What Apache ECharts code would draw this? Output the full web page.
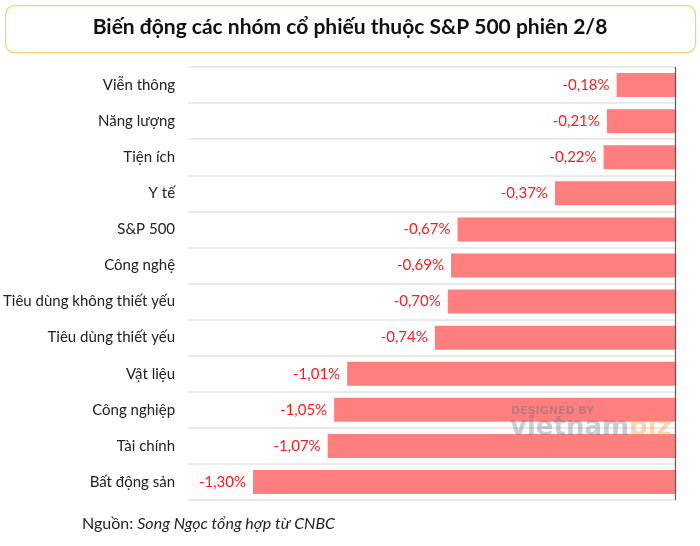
<!DOCTYPE html>
<html>
<head>
<meta charset="utf-8">
<script src="https://cdn.jsdelivr.net/npm/echarts@6/dist/echarts.min.js"></script>
<style>html,body{margin:0;padding:0;background:#fff}#c{width:700px;height:546px}</style>
</head>
<body>
<div id="c"></div>
<script>
const categories = ["Viễn thông","Năng lượng","Tiện ích","Y tế","S&P 500","Công nghệ","Tiêu dùng không thiết yếu","Tiêu dùng thiết yếu","Vật liệu","Công nghiệp","Tài chính","Bất động sản"];
const values = [-0.18,-0.21,-0.22,-0.37,-0.67,-0.69,-0.70,-0.74,-1.01,-1.05,-1.07,-1.30];
const titleText = "Biến động các nhóm cổ phiếu thuộc S&P 500 phiên 2/8";

const chart = echarts.init(document.getElementById('c'));
chart.setOption({
  backgroundColor: '#fff',
  animation: false,
  grid: {left: 187, right: 25, top: 67, bottom: 46},
  xAxis: {type: 'value', min: -1.5, max: 0, show: false},
  yAxis: {
    type: 'category', data: categories, inverse: true,
    axisLine: {show: false}, axisTick: {show: false},
    axisLabel: {color: '#222', fontSize: 15, fontFamily: 'Lato', margin: 13},
    splitLine: {show: true, lineStyle: {color: '#e4e4e4', width: 1.5}}
  },
  series: [{
    type: 'bar', data: values, barWidth: 24,
    itemStyle: {color: '#ff7f7f'},
    label: {show: true, position: 'left', distance: 7, color: '#ff1a1a', fontSize: 15, fontFamily: 'Lato',
      formatter: p => p.value.toFixed(2).replace('.', ',') + '%'},
    markLine: {silent: true, symbol: 'none', label: {show: false},
      lineStyle: {color: '#5a5a66', type: 'solid', width: 1.2},
      data: [{xAxis: 0}]}
  }],
  graphic: [
    {type: 'rect', left: 5, top: 5, shape: {width: 690, height: 47, r: 9},
      style: {fill: '#fff', stroke: '#f6d36a', lineWidth: 1.2}, z: -1},
    {type: 'text', left: 'center', top: 17, style: {text: titleText, fontSize: 21, fontWeight: 'bold', fontFamily: 'Lato', fill: '#111'}},
    {type: 'text', left: 82, top: 516, style: {
      text: '{a|Nguồn: }{b|Song Ngọc tổng hợp từ CNBC}',
      rich: {a: {fontSize: 16, fontFamily: 'Lato', fill: '#222'}, b: {fontSize: 16, fontFamily: 'Lato', fontStyle: 'italic', fill: '#222'}}}},
    {type: 'text', left: 511, top: 406, z: 100, style: {text: 'DESIGNED BY', fontSize: 11, fontWeight: 'bold', fontFamily: 'DejaVu Sans', fill: 'rgba(110,110,130,0.45)'}},
    {type: 'text', left: 510, top: 415, z: 100, style: {text: '{v|vietnam}{b|biz}', rich: {v: {fontSize: 26, fontWeight: 'bold', fontFamily: 'DejaVu Sans', fill: 'rgba(110,110,130,0.35)'}, b: {fontSize: 26, fontWeight: 'bold', fontFamily: 'DejaVu Sans', fill: 'rgba(245,160,90,0.45)'}}}}
  ]
});
</script>
</body>
</html>
